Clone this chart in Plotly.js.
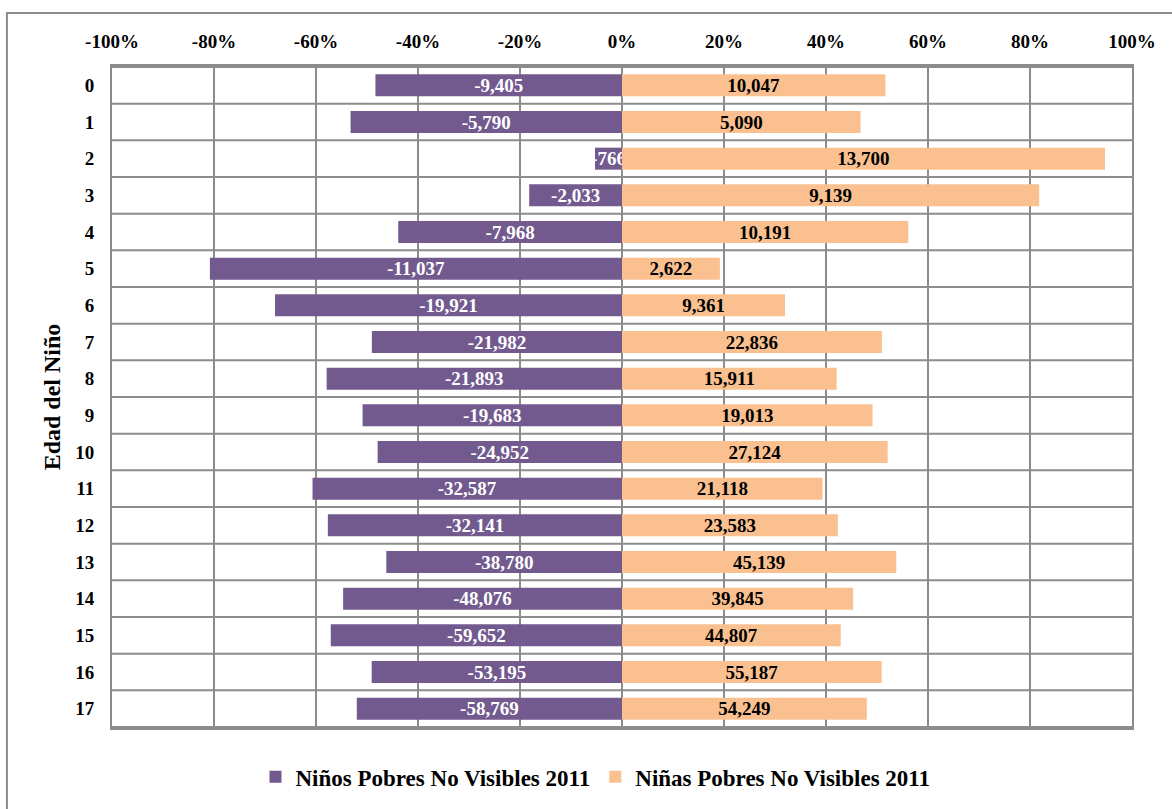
<!DOCTYPE html>
<html>
<head>
<meta charset="utf-8">
<script src="https://cdn.plot.ly/plotly-3.0.1.min.js"></script>
<style>
html,body{margin:0;padding:0;background:#fff;}
#chart{width:1172px;height:809px;}
</style>
</head>
<body>
<div id="chart"></div>
<script>
// Data
const edades = ["0","1","2","3","4","5","6","7","8","9","10","11","12","13","14","15","16","17"];
const ninos = [9405,5790,766,2033,7968,11037,19921,21982,21893,19683,24952,32587,32141,38780,48076,59652,53195,58769];
const ninas = [10047,5090,13700,9139,10191,2622,9361,22836,15911,19013,27124,21118,23583,45139,39845,44807,55187,54249];
const tickVals = [-100,-80,-60,-40,-20,0,20,40,60,80,100];
const tickText = ["-100%","-80%","-60%","-40%","-20%","0%","20%","40%","60%","80%","100%"];

const fmt = n => n.toLocaleString('en-US');
const total = ninos.map((v,i)=>v+ninas[i]);
const pctNinos = ninos.map((v,i)=>-100*v/total[i]);
const pctNinas = ninas.map((v,i)=>100*v/total[i]);

const serif = "Liberation Serif, DejaVu Serif, serif";

const traces = [
  {
    type:'bar', orientation:'h', name:'Niños Pobres No Visibles 2011',
    y: edades, x: pctNinos,
    text: ninos.map(v=>fmt(-v)),
    textposition:'inside', insidetextanchor:'middle',
    textfont:{family:serif, size:19, color:'#ffffff', weight:'bold'},
    marker:{color:'#725A8F'},
    hoverinfo:'none'
  },
  {
    type:'bar', orientation:'h', name:'Niñas Pobres No Visibles 2011',
    y: edades, x: pctNinas,
    text: ninas.map(v=>fmt(v)),
    textposition:'inside', insidetextanchor:'middle',
    textfont:{family:serif, size:19, color:'#000000', weight:'bold'},
    marker:{color:'#FAC090'},
    hoverinfo:'none'
  }
];

const shapes = [];
for (let i=0;i<=edades.length;i++){
  shapes.push({type:'line', xref:'paper', x0:0, x1:1, yref:'y', y0:i-0.5, y1:i-0.5,
    line:{color:'#8c8c8c', width:2}, layer:'below'});
}
// outer frame
shapes.push({type:'rect', xref:'paper', yref:'paper', x0:-0.103, x1:1.2, y0:-0.5, y1:1.08,
  line:{color:'#8c8c8c', width:2}, fillcolor:'rgba(0,0,0,0)'});

const layout = {
  width:1172, height:809,
  margin:{l:112, r:40, t:66, b:80},
  paper_bgcolor:'#ffffff', plot_bgcolor:'#ffffff',
  barmode:'relative', bargap:0.4,
  font:{family:serif, size:18, color:'#000'},
  uniformtext:{mode:'show', minsize:19},
  xaxis:{
    side:'top', range:[-100,100], tickvals:tickVals, ticktext:tickText,
    showgrid:true, gridcolor:'#8c8c8c', gridwidth:2,
    zeroline:false, showline:true, mirror:true, linecolor:'#8c8c8c', linewidth:2,
    ticks:'', tickfont:{family:serif, size:19, weight:'bold'}, ticklabelstandoff:8, fixedrange:true
  },
  yaxis:{
    type:'category', autorange:'reversed',
    showgrid:false, zeroline:false, showline:true, mirror:true, linecolor:'#8c8c8c', linewidth:2,
    ticks:'', tickfont:{family:serif, size:19, weight:'bold'}, ticklabelstandoff:12,
    title:{text:'Edad del Niño', font:{family:serif, size:24, weight:'bold'}, standoff:8},
    fixedrange:true
  },
  legend:{
    orientation:'h', x:0.474, xanchor:'center', y:-0.072, yanchor:'middle',
    font:{family:serif, size:23, weight:'bold'}, traceorder:'normal', itemwidth:30
  },
  shapes: shapes,
  showlegend:true
};

Plotly.newPlot('chart', traces, layout, {displayModeBar:false, staticPlot:true});
</script>
</body>
</html>
